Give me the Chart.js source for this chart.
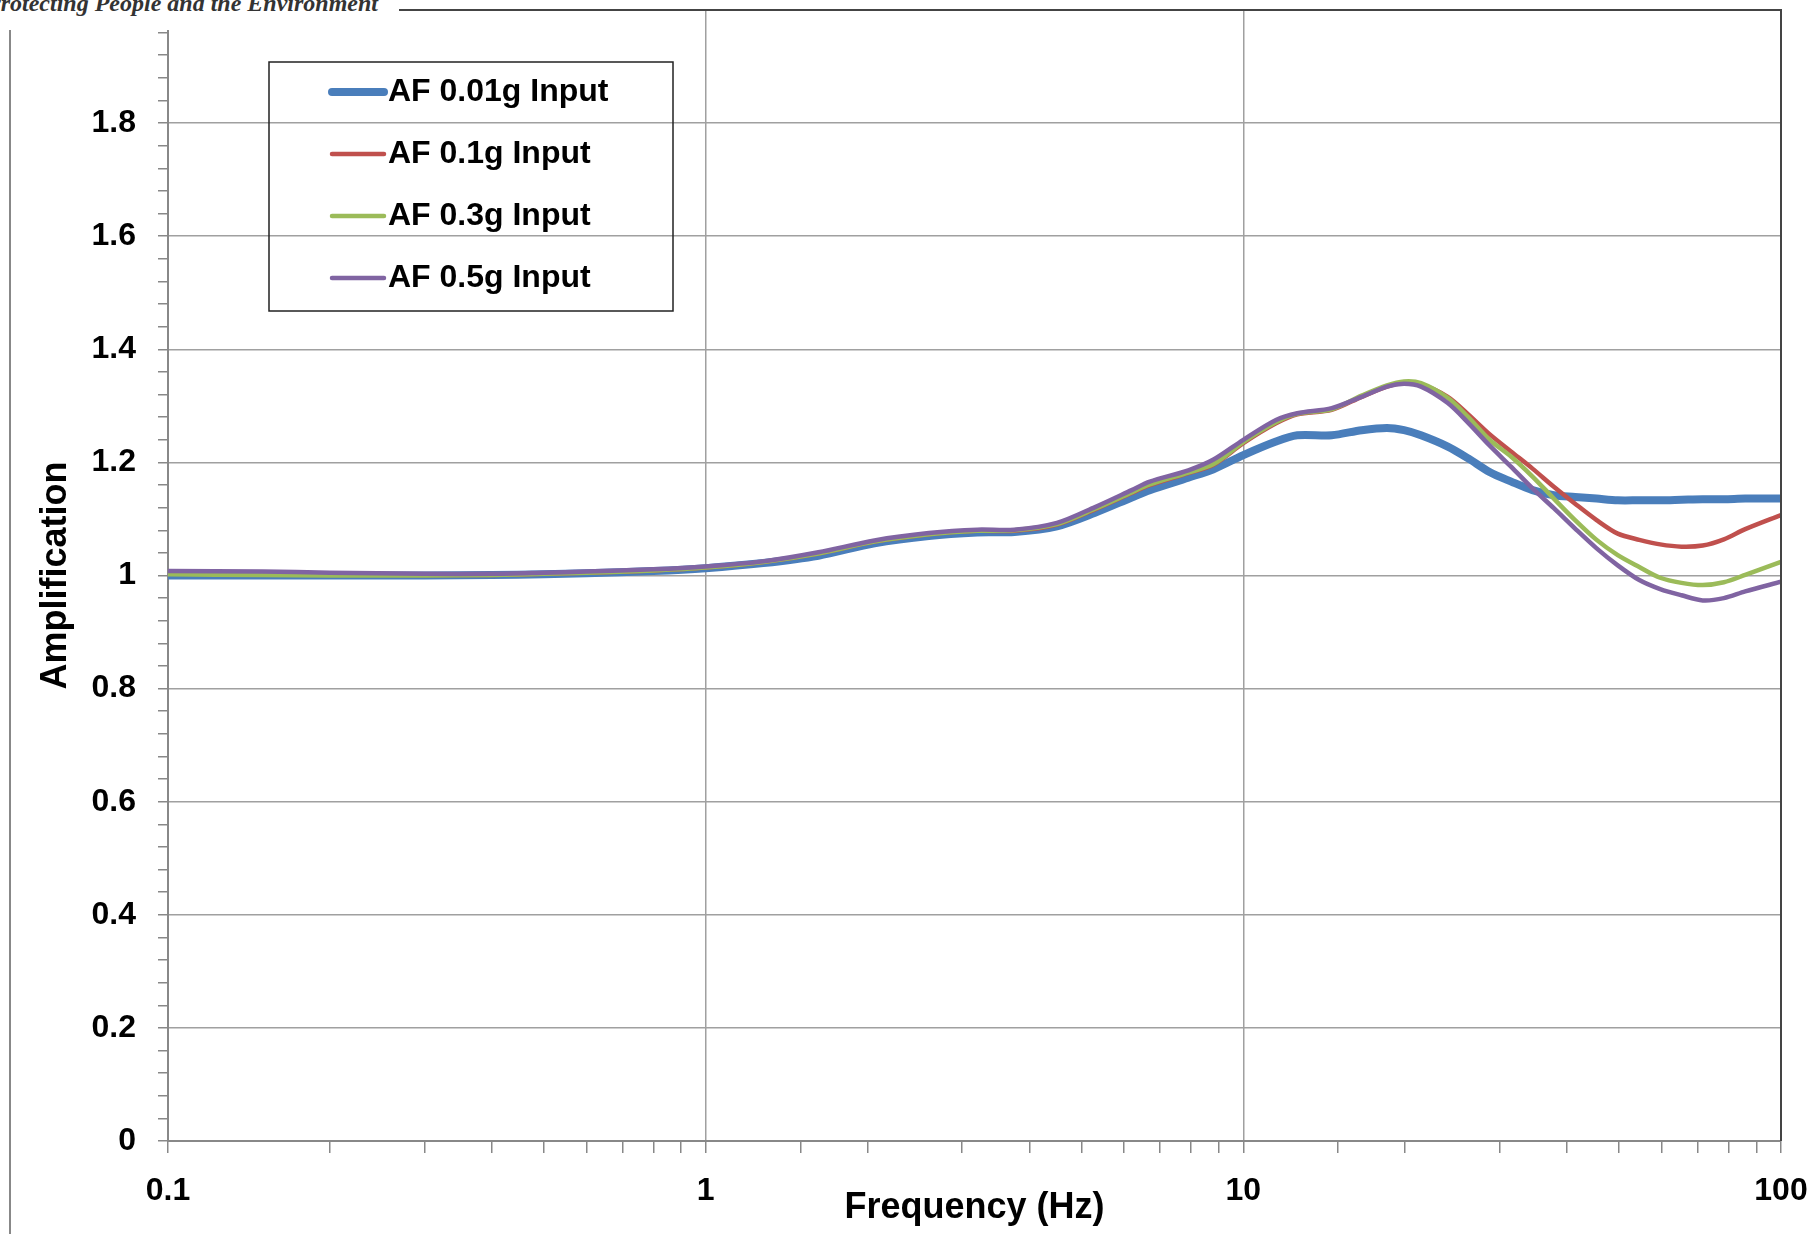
<!DOCTYPE html>
<html>
<head>
<meta charset="utf-8">
<script src="https://cdn.jsdelivr.net/npm/chart.js@4.4.1/dist/chart.umd.min.js"></script>
<style>
  body { margin: 0; background: #fff; }
  #wrap { position: relative; width: 1818px; height: 1234px; }
  #header { position: absolute; left: 0; top: 0; width: 399px; height: 30px; background: #fff; overflow: hidden; }
  #header span { position: absolute; left: -14px; top: -10px; font: italic bold 24px 'Liberation Serif'; color: #333; white-space: nowrap; }
</style>
</head>
<body>
<div id="wrap">
  <canvas id="afChart"></canvas>
  <div id="header"><span>Protecting People and the Environment</span></div>
</div>
<script>
// frequencies (Hz)
const freq = [0.1, 0.15, 0.2, 0.3, 0.4, 0.5, 0.6, 0.8, 1.0, 1.28, 1.62, 2.06, 2.6, 3.2, 3.75, 4.5, 5.3, 6.2, 6.7, 7.9, 8.8,
              10, 11.5, 12.6, 14.6, 16.6, 18.5, 19.9, 21.4, 24, 26.2, 28.7, 31.5, 34.5, 37.8, 41.4, 45.4, 49.7, 54.5,
              59.6, 65.3, 71.5, 78.3, 85.8, 100];

// amplification per input level
const af001 = [1.000, 1.000, 1.000, 1.000, 1.001, 1.002, 1.004, 1.008, 1.013, 1.022, 1.035, 1.057, 1.070, 1.076, 1.077,
               1.087, 1.111, 1.138, 1.151, 1.173, 1.188, 1.213, 1.237, 1.248, 1.248, 1.257, 1.261, 1.257, 1.248, 1.228,
               1.207, 1.183, 1.166, 1.151, 1.142, 1.139, 1.136, 1.133, 1.133, 1.133, 1.134, 1.135, 1.135, 1.136, 1.136];
const af01  = [1.004, 1.003, 1.002, 1.001, 1.001, 1.003, 1.005, 1.009, 1.014, 1.024, 1.039, 1.060, 1.073, 1.079, 1.079,
               1.090, 1.117, 1.146, 1.160, 1.181, 1.196, 1.234, 1.269, 1.285, 1.293, 1.316, 1.334, 1.341, 1.338, 1.316,
               1.285, 1.250, 1.219, 1.189, 1.157, 1.127, 1.098, 1.074, 1.063, 1.055, 1.051, 1.053, 1.064, 1.082, 1.107];
const af03  = [1.002, 1.001, 1.000, 1.000, 1.001, 1.003, 1.005, 1.009, 1.014, 1.024, 1.039, 1.060, 1.073, 1.079, 1.080,
               1.091, 1.118, 1.147, 1.161, 1.182, 1.197, 1.236, 1.271, 1.286, 1.294, 1.318, 1.336, 1.343, 1.340, 1.314,
               1.280, 1.240, 1.210, 1.175, 1.136, 1.098, 1.063, 1.036, 1.015, 0.996, 0.987, 0.983, 0.988, 1.001, 1.024];
const af05  = [1.008, 1.007, 1.005, 1.003, 1.003, 1.005, 1.007, 1.011, 1.016, 1.025, 1.041, 1.062, 1.075, 1.081, 1.081,
               1.093, 1.121, 1.151, 1.166, 1.186, 1.205, 1.240, 1.275, 1.287, 1.296, 1.316, 1.334, 1.339, 1.334, 1.305,
               1.270, 1.230, 1.192, 1.154, 1.119, 1.083, 1.048, 1.018, 0.992, 0.976, 0.965, 0.956, 0.960, 0.972, 0.989];

const seriesLabels = ['AF 0.01g Input', 'AF 0.1g Input', 'AF 0.3g Input', 'AF 0.5g Input'];
const seriesValues = [af001, af01, af03, af05];
const seriesColors = ['#4a7ebb', '#c0504d', '#9bbb59', '#8064a2'];
const seriesWidths = [8, 4.5, 4.5, 4.5];

const xTickLabels = [0.1, 1, 10, 100];
const yTickLabels = [0, 0.2, 0.4, 0.6, 0.8, 1, 1.2, 1.4, 1.6, 1.8];

Chart.defaults.font.family = "'Liberation Sans', Arial, sans-serif";
Chart.defaults.color = '#000';

const isMajorY = v => Math.abs(v / 0.2 - Math.round(v / 0.2)) < 1e-6;
const isDecade = v => Math.abs(Math.log10(v) - Math.round(Math.log10(v))) < 1e-9;

// frame, outer border and boxed legend
const framePlugin = {
    id: 'frame',
    afterDraw(chart) {
        const { ctx, chartArea: a } = chart;
        ctx.save();
        ctx.strokeStyle = '#444';
        ctx.lineWidth = 2;
        ctx.beginPath();
        ctx.moveTo(a.left, a.top);
        ctx.lineTo(a.right, a.top);
        ctx.lineTo(a.right, a.bottom);
        ctx.stroke();

        ctx.strokeStyle = '#888';
        ctx.beginPath();
        ctx.moveTo(10, 0);
        ctx.lineTo(10, chart.height);
        ctx.stroke();

        // legend box
        ctx.strokeStyle = '#222';
        ctx.lineWidth = 1.5;
        ctx.strokeRect(269, 62, 404, 249);
        ctx.font = 'bold 32px ' + Chart.defaults.font.family;
        ctx.textBaseline = 'middle';
        ctx.fillStyle = '#000';
        chart.data.datasets.forEach((ds, i) => {
            const y = 92 + i * 62;
            ctx.strokeStyle = ds.borderColor;
            ctx.lineWidth = ds.borderWidth;
            ctx.lineCap = 'round';
            ctx.beginPath();
            ctx.moveTo(332, y);
            ctx.lineTo(384, y);
            ctx.stroke();
            ctx.fillText(ds.label, 388, y);
        });
        ctx.restore();
    }
};

const ctx = document.getElementById('afChart').getContext('2d');
new Chart(ctx, {
    type: 'line',
    data: {
        datasets: seriesLabels.map((label, i) => ({
            label: label,
            data: freq.map((f, j) => ({ x: f, y: seriesValues[i][j] })),
            borderColor: seriesColors[i],
            backgroundColor: seriesColors[i],
            borderWidth: seriesWidths[i],
            pointRadius: 0,
            tension: 0.3,
            fill: false,
            order: 4 - i
        }))
    },
    options: {
        responsive: true,
        maintainAspectRatio: false,
        animation: false,
        layout: { padding: { left: 0, top: 10, right: 37, bottom: 0 } },
        plugins: {
            legend: { display: false },
            tooltip: { enabled: false }
        },
        scales: {
            x: {
                type: 'logarithmic',
                min: 0.1,
                max: 100,
                afterFit: s => { s.height = 93; s.paddingLeft = 0; s.paddingRight = 0; },
                border: { color: '#888', width: 2 },
                grid: {
                    color: c => (c.tick && isDecade(c.tick.value)) ? '#a0a0a0' : 'transparent',
                    tickColor: '#888',
                    lineWidth: 1.5,
                    tickLength: 12
                },
                ticks: {
                    autoSkip: false,
                    maxRotation: 0,
                    padding: 19,
                    font: { size: 32, weight: 'bold' },
                    callback: v => (isDecade(v) && xTickLabels.some(t => Math.abs(t - v) < 1e-9)) ? String(v) : ''
                },
                title: {
                    display: true,
                    text: 'Frequency (Hz)',
                    font: { size: 36, weight: 'bold' },
                    padding: { top: 0, bottom: 4 }
                }
            },
            y: {
                min: 0,
                max: 2,
                afterFit: s => { s.width = 168; s.paddingTop = 0; s.paddingBottom = 0; },
                border: { color: '#888', width: 2 },
                grid: {
                    color: c => (c.tick && isMajorY(c.tick.value)) ? '#a0a0a0' : 'transparent',
                    tickColor: '#888',
                    lineWidth: 1.5,
                    tickLength: 10
                },
                ticks: {
                    stepSize: 0.04,
                    maxTicksLimit: 60,
                    autoSkip: false,
                    padding: 22,
                    font: { size: 32, weight: 'bold' },
                    callback: v => {
                        const hit = yTickLabels.find(t => Math.abs(t - v) < 1e-6);
                        return hit === undefined ? '' : String(hit);
                    }
                },
                title: {
                    display: true,
                    text: 'Amplification',
                    font: { size: 36, weight: 'bold' },
                    padding: { top: 34, bottom: 0 }
                }
            }
        }
    },
    plugins: [framePlugin]
});
</script>
</body>
</html>
